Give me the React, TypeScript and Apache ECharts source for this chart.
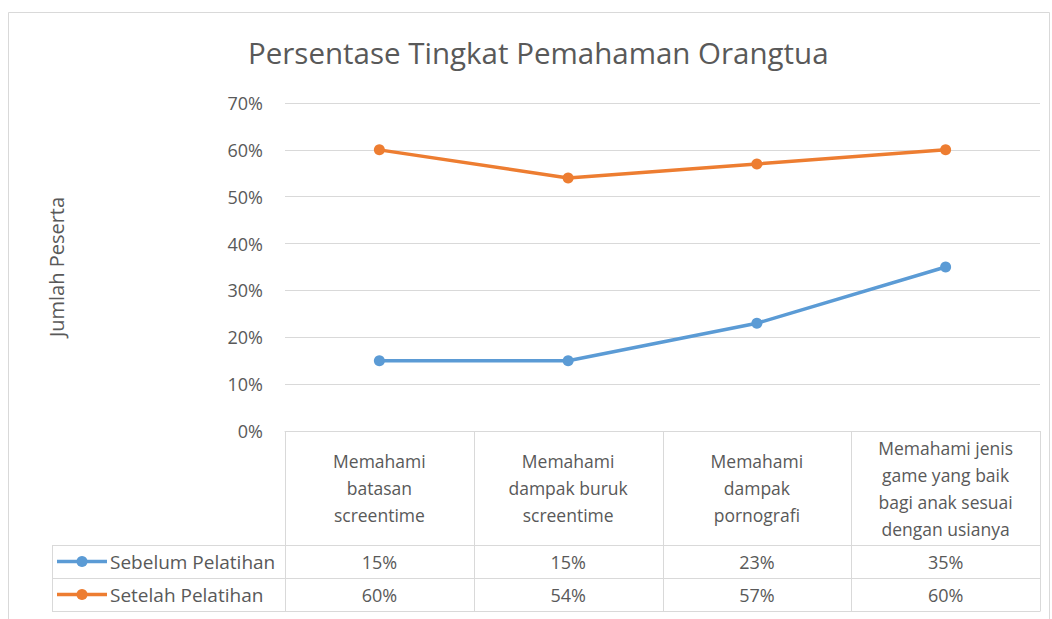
import React, { useEffect, useRef } from "react";
import * as echarts from "echarts";

const titleText = "Persentase Tingkat Pemahaman Orangtua";
const yAxisName = "Jumlah Peserta";
const categories = [
  "Memahami\nbatasan\nscreentime",
  "Memahami\ndampak buruk\nscreentime",
  "Memahami\ndampak\npornografi",
  "Memahami jenis\ngame yang baik\nbagi anak sesuai\ndengan usianya",
];
const seriesNames = ["Sebelum Pelatihan", "Setelah Pelatihan"];
const sebelum = [15, 15, 23, 35];
const setelah = [60, 54, 57, 60];
const seriesColors = ["#5B9BD5", "#ED7D31"];
const yMin = 0;
const yMax = 70;
const yInterval = 10;

const W = 1052;
const H = 619;
const FONT = "'Open Sans', sans-serif";
const TEXT = "#595959";
const LINE = "#d9d9d9";

export default function App() {
  const ref = useRef<HTMLDivElement>(null);
  useEffect(() => {
    if (!ref.current) return;
    const chart = echarts.init(ref.current, null, { renderer: "svg" });
    const gridLeft = 285;
    const gridRight = 1040;
    const gridTop = 103;
    const gridBottom = 431;
    const headerBottom = 545;
    const rowH = 33;
    const tableLeft = 52;
    const colW = (gridRight - gridLeft) / categories.length;
    const allSeries = [sebelum, setelah];
    const tableBottom = headerBottom + rowH * allSeries.length;

    const graphics: any[] = [];
    graphics.push({
      type: "rect",
      shape: { x: 8.5, y: 12.5, width: W - 11, height: H },
      style: { fill: "none", stroke: LINE, lineWidth: 1 },
      silent: true,
    });
    for (let i = 0; i <= categories.length; i++) {
      const x = Math.round(gridLeft + colW * i) + 0.5;
      graphics.push({
        type: "line",
        shape: { x1: x, y1: gridBottom, x2: x, y2: tableBottom },
        style: { stroke: LINE, lineWidth: 1 },
      });
    }
    graphics.push({
      type: "line",
      shape: { x1: tableLeft + 0.5, y1: headerBottom, x2: tableLeft + 0.5, y2: tableBottom },
      style: { stroke: LINE, lineWidth: 1 },
    });
    for (let r = 0; r <= allSeries.length; r++) {
      const y = headerBottom + rowH * r + 0.5;
      graphics.push({
        type: "line",
        shape: { x1: tableLeft, y1: y, x2: gridRight + 0.5, y2: y },
        style: { stroke: LINE, lineWidth: 1 },
      });
    }
    allSeries.forEach((vals, r) => {
      const cy = headerBottom + rowH * r + rowH / 2;
      graphics.push({
        type: "line",
        shape: { x1: 57, y1: cy, x2: 107, y2: cy },
        style: { stroke: seriesColors[r], lineWidth: 3.5 },
      });
      graphics.push({
        type: "circle",
        shape: { cx: 82, cy, r: 5.5 },
        style: { fill: seriesColors[r] },
      });
      graphics.push({
        type: "text",
        x: 110,
        y: cy,
        style: {
          text: seriesNames[r],
          fill: TEXT,
          font: `19px ${FONT}`,
          verticalAlign: "middle",
          align: "left",
        },
      });
      vals.forEach((v, i) => {
        graphics.push({
          type: "text",
          x: gridLeft + colW * (i + 0.5),
          y: cy,
          style: {
            text: `${v}%`,
            fill: TEXT,
            font: `18px ${FONT}`,
            verticalAlign: "middle",
            align: "center",
          },
        });
      });
    });

    chart.setOption({
      animation: false,
      backgroundColor: "#ffffff",
      title: {
        text: titleText,
        left: 243,
        top: 32,
        textStyle: { color: TEXT, fontFamily: FONT, fontSize: 29.5, fontWeight: "normal" },
      },
      grid: {
        left: gridLeft,
        right: W - gridRight,
        top: gridTop,
        bottom: H - gridBottom,
        containLabel: false,
      },
      xAxis: {
        type: "category",
        data: categories,
        boundaryGap: true,
        axisLine: { show: true, lineStyle: { color: LINE } },
        axisTick: { show: false },
        axisLabel: {
          interval: 0,
          margin: 57,
          verticalAlign: "middle",
          lineHeight: 27,
          color: TEXT,
          fontFamily: FONT,
          fontSize: 17.5,
          align: "center",
        },
      },
      yAxis: {
        type: "value",
        min: yMin,
        max: yMax,
        interval: yInterval,
        name: yAxisName,
        nameLocation: "middle",
        nameRotate: 90,
        nameGap: 219,
        nameTextStyle: { color: TEXT, fontFamily: FONT, fontSize: 20 },
        axisLine: { show: false },
        axisTick: { show: false },
        splitLine: { lineStyle: { color: LINE, width: 1 } },
        axisLabel: {
          formatter: "{value}%",
          color: TEXT,
          fontFamily: FONT,
          fontSize: 18,
          margin: 22,
        },
      },
      graphic: graphics,
      series: allSeries.map((vals, r) => ({
        name: seriesNames[r],
        type: "line",
        data: vals,
        symbol: "circle",
        symbolSize: 11,
        lineStyle: { color: seriesColors[r], width: 3.5 },
        itemStyle: { color: seriesColors[r] },
      })),
    });
    return () => chart.dispose();
  }, []);
  return (
    <div
      ref={ref}
      style={{ position: "fixed", left: 0, top: 0, width: W, height: H }}
    />
  );
}
